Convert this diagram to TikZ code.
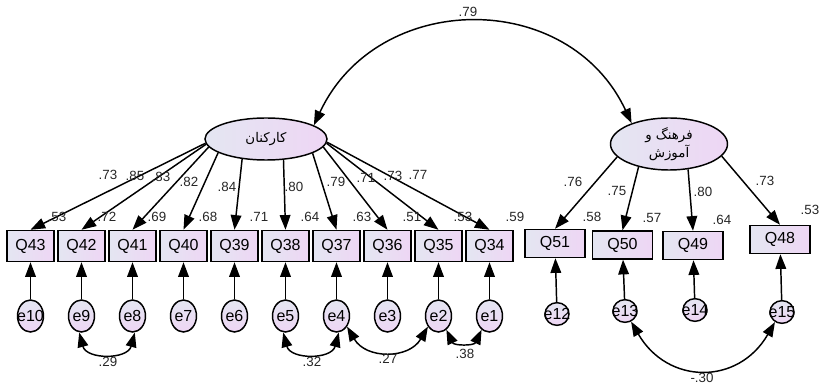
\documentclass[tikz,border=0pt]{standalone}
\usepackage{fontspec}
\setmainfont{Liberation Sans}
\newfontfamily\farsi[Script=Arabic]{DejaVu Sans}
\TeXXeTstate=1
\usetikzlibrary{positioning}
\usetikzlibrary{shapes.geometric}
\usetikzlibrary{arrows.meta}
\definecolor{itemColor}{RGB}{228,230,242}
\definecolor{itemColorBis}{RGB}{238,214,244}
\newcommand{\errlabel}[1]{\smash{\raisebox{-0.36em}{\makebox[0pt]{#1}}}}

\begin{document}
\begin{tikzpicture}[x=0.75pt,y=0.75pt]

            \tikzstyle{item} = [draw, line width=1.1pt, left color=itemColor, right color=itemColorBis, minimum width=35.25pt, minimum height=23.25pt, inner sep=0pt, font=\fontsize{12}{14}\selectfont];
            \tikzstyle{itemWide} = [item, minimum width=45pt, minimum height=21pt];
            \tikzstyle{latentNode} = [ellipse, draw, line width=1.1pt, left color=itemColor, right color=itemColorBis, inner sep=0pt, font=\farsi\fontsize{10}{13.5}\selectfont];
            \tikzstyle{errNode} = [ellipse, draw, line width=1.1pt, top color=itemColor, bottom color=itemColorBis, minimum width=19.5pt, minimum height=24pt, inner sep=0pt, font=\fontsize{12}{14}\selectfont];
            \tikzstyle{errSmall} = [errNode, minimum width=18pt, minimum height=17pt];
            \tikzstyle{coef} = [inner sep=0pt, text=black!85, font=\fontsize{10}{12}\selectfont];
            \tikzstyle{loadEdge} = [line width=1.1pt, -{Triangle[length=11pt,width=8pt]}];
            \tikzstyle{covEdge} = [line width=1.1pt, {Triangle[length=11pt,width=8pt]}-{Triangle[length=11pt,width=8pt]}];

            \useasboundingbox (0,0) rectangle (819,386);

            \node[latentNode, minimum width=91.5pt, minimum height=31.5pt] (kark) at (266,247) {\beginR کارکنان\endR};
            \node[latentNode, minimum width=87.75pt, minimum height=39pt, align=center] (fz) at (669,242) {\beginR فرهنگ و\endR\\\beginR آموزش\endR};

            \node[item] (Q43) at ( 30.5,140) {Q43};
            \node[item] (Q42) at ( 81.5,140) {Q42};
            \node[item] (Q41) at (132.5,140) {Q41};
            \node[item] (Q40) at (183.5,140) {Q40};
            \node[item] (Q39) at (234.5,140) {Q39};
            \node[item] (Q38) at (285.5,140) {Q38};
            \node[item] (Q37) at (336.5,140) {Q37};
            \node[item] (Q36) at (387.5,140) {Q36};
            \node[item] (Q35) at (438.5,140) {Q35};
            \node[item] (Q34) at (489.5,140) {Q34};

            \node[itemWide] (Q51) at (555,142.5) {Q51};
            \node[itemWide] (Q50) at (622.5,141) {Q50};
            \node[itemWide] (Q49) at (693,140.5) {Q49};
            \node[itemWide] (Q48) at (780,146.5) {Q48};

            \node[errNode] (e10) at ( 30.5,70) {\errlabel{e10}};
            \node[errNode] (e9)  at ( 81.5,70) {\errlabel{e9}};
            \node[errNode] (e8)  at (132.5,70) {\errlabel{e8}};
            \node[errNode] (e7)  at (183.5,70) {\errlabel{e7}};
            \node[errNode] (e6)  at (234.5,70) {\errlabel{e6}};
            \node[errNode] (e5)  at (285.5,70) {\errlabel{e5}};
            \node[errNode] (e4)  at (336.5,70) {\errlabel{e4}};
            \node[errNode] (e3)  at (387.5,70) {\errlabel{e3}};
            \node[errNode] (e2)  at (438.5,70) {\errlabel{e2}};
            \node[errNode] (e1)  at (489.5,70) {\errlabel{e1}};

            \node[errSmall] (e12) at (557,72) {\errlabel{e12}};
            \node[errSmall] (e13) at (625,75) {\errlabel{e13}};
            \node[errSmall] (e14) at (695,76) {\errlabel{e14}};
            \node[errSmall] (e15) at (782,74) {\errlabel{e15}};

            \draw[loadEdge] (kark.184) -- (Q43.north);
            \draw[loadEdge] (kark.185) -- (Q42.north);
            \draw[loadEdge] (kark.188) -- (Q41.north);
            \draw[loadEdge] (kark.196) -- (Q40.north);
            \draw[loadEdge] (kark.220) -- (Q39.north);
            \draw[loadEdge] (kark.310) -- (Q38.north);
            \draw[loadEdge] (kark.343) -- (Q37.north);
            \draw[loadEdge] (kark.352) -- (Q36.north);
            \draw[loadEdge] (kark.356) -- (Q35.north);
            \draw[loadEdge] (kark.357) -- (Q34.north);

            \draw[loadEdge] (fz.194) -- (Q51.north);
            \draw[loadEdge] (fz.217) -- (Q50.north);
            \draw[loadEdge] (fz.307) -- (Q49.north);
            \draw[loadEdge] (fz.347) -- (Q48.north);

            \draw[loadEdge] (e10) -- (Q43);
            \draw[loadEdge] (e9)  -- (Q42);
            \draw[loadEdge] (e8)  -- (Q41);
            \draw[loadEdge] (e7)  -- (Q40);
            \draw[loadEdge] (e6)  -- (Q39);
            \draw[loadEdge] (e5)  -- (Q38);
            \draw[loadEdge] (e4)  -- (Q37);
            \draw[loadEdge] (e3)  -- (Q36);
            \draw[loadEdge] (e2)  -- (Q35);
            \draw[loadEdge] (e1)  -- (Q34);
            \draw[loadEdge] (e12) -- (Q51);
            \draw[loadEdge] (e13) -- (Q50);
            \draw[loadEdge] (e14) -- (Q49);
            \draw[loadEdge] (e15) -- (Q48);

            \draw[covEdge] (kark.16) to[out=65,in=115,looseness=1.2] (fz.151);
            \draw[covEdge] (e9.262) to[out=-75,in=-105,looseness=1.3] (e8.278);
            \draw[covEdge] (e5.262) to[out=-75,in=-105,looseness=1.3] (e4.278);
            \draw[covEdge] (e4.315) to[out=-60,in=-120,looseness=1.2] (e2.225);
            \draw[covEdge] (e2.300) to[out=-65,in=-115,looseness=1.3] (e1.240);
            \draw[covEdge] (e13.300) to[out=-60,in=-120,looseness=1.3] (e15.235);

            \node[coef] (c79) at (468,374) {.79};
            \node[coef] (c29) at (108,24) {.29};
            \node[coef] (c32) at (312,24) {.32};
            \node[coef] (c27) at (388,27) {.27};
            \node[coef] (c38) at (465,32) {.38};
            \node[coef] (c30) at (702,8) {-.30};

            \node[coef] (l43) at (108,211) {.73};
            \node[coef] (l42) at (135,210) {.85};
            \node[coef] (l41) at (161,209) {.83};
            \node[coef] (l40) at (189,204) {.82};
            \node[coef] (l39) at (227,199) {.84};
            \node[coef] (l38) at (294,199) {.80};
            \node[coef] (l37) at (336,204) {.79};
            \node[coef] (l36) at (366,208) {.71};
            \node[coef] (l35) at (393,210) {.73};
            \node[coef] (l34) at (418,211) {.77};
            \node[coef] (l51) at (573,204) {.76};
            \node[coef] (l50) at (617,195) {.75};
            \node[coef] (l49) at (703,194) {.80};
            \node[coef] (l48) at (765,205) {.73};

            \node[coef] (r43) at ( 57,169) {.53};
            \node[coef] (r42) at (107,169) {.72};
            \node[coef] (r41) at (157,169) {.69};
            \node[coef] (r40) at (208,169) {.68};
            \node[coef] (r39) at (259,169) {.71};
            \node[coef] (r38) at (310,169) {.64};
            \node[coef] (r37) at (362,169) {.63};
            \node[coef] (r36) at (412,169) {.51};
            \node[coef] (r35) at (463,169) {.53};
            \node[coef] (r34) at (515,169) {.59};
            \node[coef] (r51) at (592,169) {.58};
            \node[coef] (r50) at (652,168) {.57};
            \node[coef] (r49) at (722,166) {.64};
            \node[coef] (r48) at (810,176) {.53};
          \end{tikzpicture}
\end{document}
